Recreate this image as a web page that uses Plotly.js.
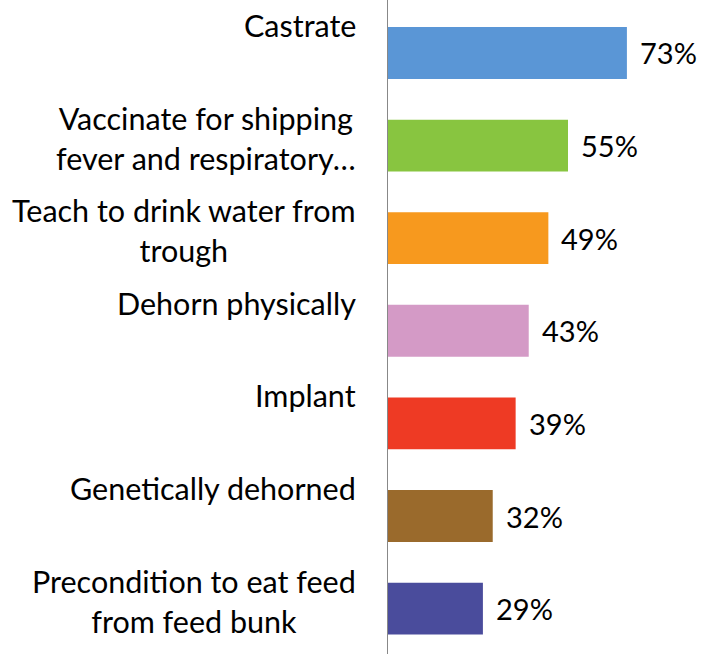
<!DOCTYPE html>
<html>
<head>
<meta charset="utf-8">
<script src="https://cdn.plot.ly/plotly-3.0.1.min.js"></script>
<style>
  html, body { margin: 0; padding: 0; background: #fff; }
  #chart { width: 712px; height: 654px; }
</style>
</head>
<body>
<div id="chart"></div>
<script>
const categories = [
    "Castrate",
    "Vaccinate for shipping<br>fever and respiratory…",
    "Teach to drink water from<br>trough",
    "Dehorn physically",
    "Implant",
    "Genetically dehorned",
    "Precondition to eat feed<br>from feed bunk"
];
const percents = [73, 55, 49, 43, 39, 32, 29];
const barColors = ["#5A96D6", "#88C540", "#F7991E", "#D49AC6", "#EE3A24", "#9A6A2C", "#4A4C9C"];

const FONT = "Lato, 'Liberation Sans', sans-serif";

const trace = {
    type: "bar",
    orientation: "h",
    x: percents,
    y: categories.map((c, i) => i),
    marker: { color: barColors, line: { width: 0 } },
    width: 0.56,
    hoverinfo: "skip"
};

// category labels, top-aligned above the bar centre, lines centred
const labelNotes = categories.map((c, i) => ({
    text: c,
    xref: "paper",
    x: 0,
    xanchor: "right",
    xshift: -30,
    y: i,
    yanchor: "top",
    yshift: 48,
    align: "center",
    showarrow: false,
    font: { family: FONT, size: 30.5, color: "#000" }
}));

// value labels to the right of each bar
const valueNotes = percents.map((v, i) => ({
    text: v + "%",
    x: v,
    xanchor: "left",
    xshift: 11,
    y: i,
    yanchor: "middle",
    showarrow: false,
    font: { family: FONT, size: 29, color: "#000" }
}));

const layout = {
    width: 712,
    height: 654,
    margin: { l: 388, r: 0, t: 0, b: 0 },
    paper_bgcolor: "#fff",
    plot_bgcolor: "#fff",
    showlegend: false,
    xaxis: {
        range: [0, 99],
        showgrid: false,
        zeroline: false,
        showticklabels: false,
        ticks: ""
    },
    yaxis: {
        range: [6.49, -0.572],
        showline: true,
        linecolor: "#888",
        linewidth: 1,
        showgrid: false,
        zeroline: false,
        showticklabels: false,
        ticks: ""
    },
    annotations: labelNotes.concat(valueNotes)
};

Plotly.newPlot("chart", [trace], layout, { displayModeBar: false, staticPlot: true });
</script>
</body>
</html>
